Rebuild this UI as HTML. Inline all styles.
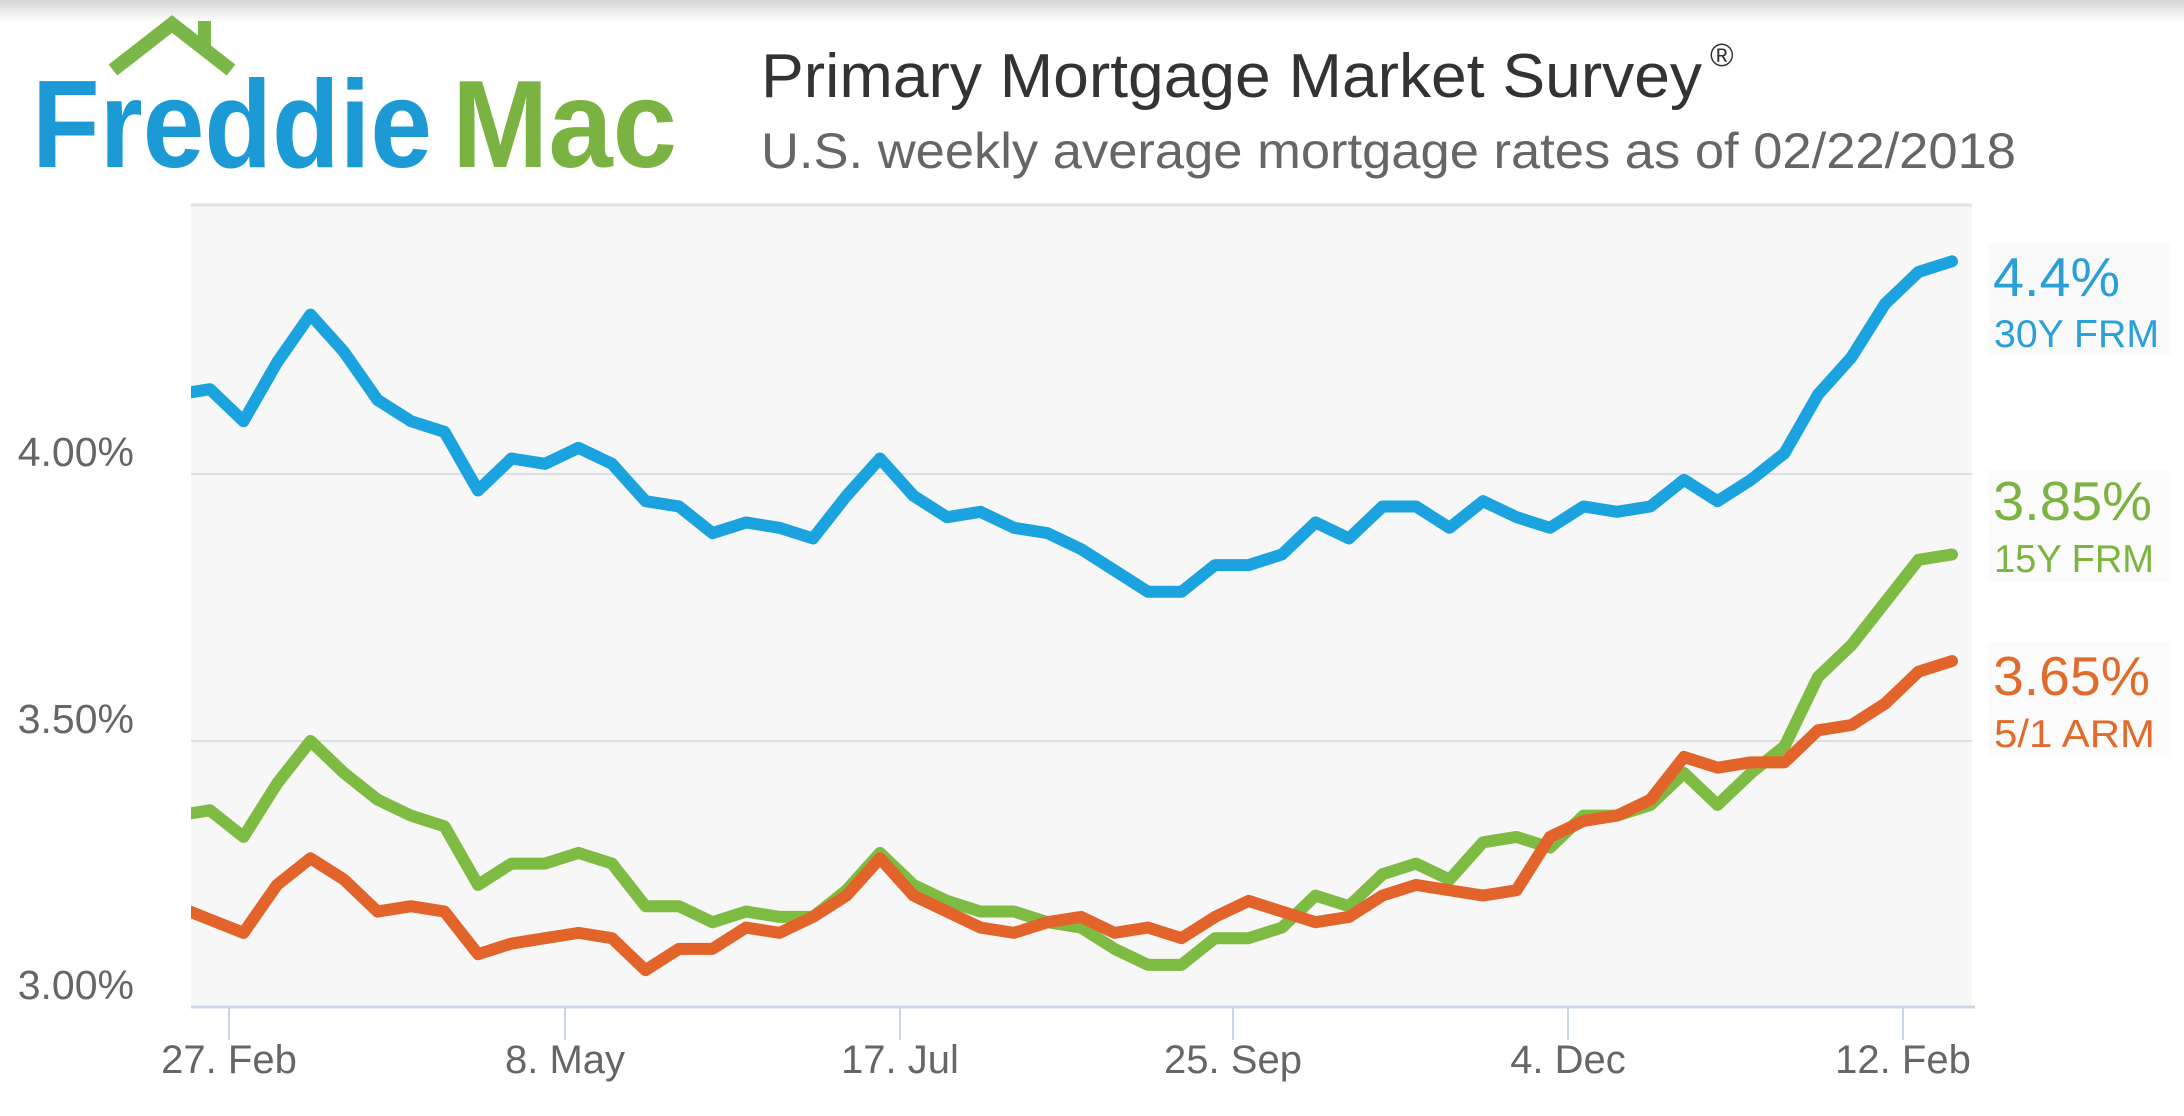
<!DOCTYPE html>
<html>
<head>
<meta charset="utf-8">
<style>
  html,body{margin:0;padding:0;background:#fff;}
  svg{display:block;}
  text{font-family:"Liberation Sans",Arial,sans-serif;}
</style>
</head>
<body>
<svg width="2184" height="1116" viewBox="0 0 2184 1116" xmlns="http://www.w3.org/2000/svg">
  <defs>
    <linearGradient id="topg" x1="0" y1="0" x2="0" y2="1">
      <stop offset="0" stop-color="#d6d6d6"/>
      <stop offset="1" stop-color="#ffffff"/>
    </linearGradient>
    <clipPath id="plotclip">
      <rect x="191" y="190" width="1800" height="830"/>
    </clipPath>
  </defs>

  <rect x="0" y="0" width="2184" height="1116" fill="#ffffff"/>
  <rect x="0" y="0" width="2184" height="22" fill="url(#topg)"/>

  <!-- Logo -->
  <polyline points="113,70 172,24 231,70" fill="none" stroke="#7ab648" stroke-width="14" stroke-linejoin="miter"/>
  <rect x="198" y="21" width="13" height="28" fill="#7ab648"/>
  <text x="32" y="167" font-size="124" font-weight="bold" fill="#1c9ad6" textLength="400" lengthAdjust="spacingAndGlyphs">Freddie</text>
  <text x="452" y="167" font-size="124" font-weight="bold" fill="#7bb342" textLength="225" lengthAdjust="spacingAndGlyphs">Mac</text>

  <!-- Titles -->
  <text x="761" y="97" font-size="62" fill="#333333" textLength="941" lengthAdjust="spacingAndGlyphs">Primary Mortgage Market Survey</text>
  <text x="1710" y="66" font-size="32" fill="#333333">®</text>
  <text x="761" y="168" font-size="50" fill="#666666" textLength="1255" lengthAdjust="spacingAndGlyphs">U.S. weekly average mortgage rates as of 02/22/2018</text>

  <!-- Plot area -->
  <rect x="191" y="205" width="1781" height="802" fill="#f7f7f7"/>
  <line x1="191" y1="205" x2="1972" y2="205" stroke="#e2e2e2" stroke-width="3"/>
  <line x1="191" y1="474" x2="1972" y2="474" stroke="#dddde2" stroke-width="2"/>
  <line x1="191" y1="741" x2="1972" y2="741" stroke="#dddde2" stroke-width="2"/>
  <line x1="191" y1="1007" x2="1975" y2="1007" stroke="#ccd6eb" stroke-width="3"/>

  <!-- Ticks -->
  <g stroke="#ccd6eb" stroke-width="2">
    <line x1="229" y1="1007" x2="229" y2="1040"/>
    <line x1="565" y1="1007" x2="565" y2="1040"/>
    <line x1="900" y1="1007" x2="900" y2="1040"/>
    <line x1="1233" y1="1007" x2="1233" y2="1040"/>
    <line x1="1568" y1="1007" x2="1568" y2="1040"/>
    <line x1="1903" y1="1007" x2="1903" y2="1040"/>
  </g>

  <!-- X labels -->
  <g font-size="40" fill="#666666" text-anchor="middle">
    <text x="229" y="1073">27. Feb</text>
    <text x="565" y="1073">8. May</text>
    <text x="900" y="1073">17. Jul</text>
    <text x="1233" y="1073">25. Sep</text>
    <text x="1568" y="1073">4. Dec</text>
    <text x="1903" y="1073">12. Feb</text>
  </g>

  <!-- Y labels -->
  <g font-size="41" fill="#666666" text-anchor="end">
    <text x="134" y="466">4.00%</text>
    <text x="134" y="733">3.50%</text>
    <text x="134" y="999">3.00%</text>
  </g>

  <!-- Series -->
  <g clip-path="url(#plotclip)">
    <g transform="matrix(33.5 0 0 -5.33 176.5 2606.5)" fill="none" stroke-linejoin="round" stroke-linecap="round">
      <polyline vector-effect="non-scaling-stroke" stroke="#1ba3df" stroke-width="12"
        points="0,415 1,416 2,410 3,421 4,430 5,423 6,414 7,410 8,408 9,397 10,403 11,402 12,405 13,402 14,395 15,394 16,389 17,391 18,390 19,388 20,396 21,403 22,396 23,392 24,393 25,390 26,389 27,386 28,382 29,378 30,378 31,383 32,383 33,385 34,391 35,388 36,394 37,394 38,390 39,395 40,392 41,390 42,394 43,393 44,394 45,399 46,395 47,399 48,404 49,415 50,422 51,432 52,438 53,440"/>
      <polyline vector-effect="non-scaling-stroke" stroke="#7dbb42" stroke-width="12"
        points="0,336 1,337 2,332 3,342 4,350 5,344 6,339 7,336 8,334 9,323 10,327 11,327 12,329 13,327 14,319 15,319 16,316 17,318 18,317 19,317 20,322 21,329 22,323 23,320 24,318 25,318 26,316 27,315 28,311 29,308 30,308 31,313 32,313 33,315 34,321 35,319 36,325 37,327 38,324 39,331 40,332 41,330 42,336 43,336 44,338 45,344 46,338 47,344 48,349 49,362 50,368 51,376 52,384 53,385"/>
      <polyline vector-effect="non-scaling-stroke" stroke="#e2642a" stroke-width="12"
        points="0,319 1,316.5 2,314 3,323 4,328 5,324 6,318 7,319 8,318 9,310 10,312 11,313 12,314 13,313 14,307 15,311 16,311 17,315 18,314 19,317 20,321 21,328 22,321 23,318 24,315 25,314 26,316 27,317 28,314 29,315 30,313 31,317 32,320 33,318 34,316 35,317 36,321 37,323 38,322 39,321 40,322 41,332 42,335 43,336 44,339 45,347 46,345 47,346 48,346 49,352 50,353 51,357 52,363 53,365"/>
    </g>
  </g>

  <!-- Right labels -->
  <rect x="1988" y="243" width="182" height="112" fill="#fafafa"/>
  <rect x="1988" y="470" width="182" height="112" fill="#fbfbfb"/>
  <rect x="1988" y="642" width="182" height="114" fill="#fbfbfb"/>
  <text x="1993" y="296" font-size="55" fill="#2a9fd8" textLength="127" lengthAdjust="spacingAndGlyphs">4.4%</text>
  <text x="1994" y="347" font-size="39" fill="#2a9fd8" textLength="165" lengthAdjust="spacingAndGlyphs">30Y FRM</text>
  <text x="1993" y="520" font-size="55" fill="#7cb342" textLength="159" lengthAdjust="spacingAndGlyphs">3.85%</text>
  <text x="1994" y="572" font-size="39" fill="#7cb342" textLength="160" lengthAdjust="spacingAndGlyphs">15Y FRM</text>
  <text x="1993" y="695" font-size="55" fill="#e06b2c" textLength="157" lengthAdjust="spacingAndGlyphs">3.65%</text>
  <text x="1994" y="747" font-size="39" fill="#e06b2c" textLength="161" lengthAdjust="spacingAndGlyphs">5/1 ARM</text>
</svg>
</body>
</html>
